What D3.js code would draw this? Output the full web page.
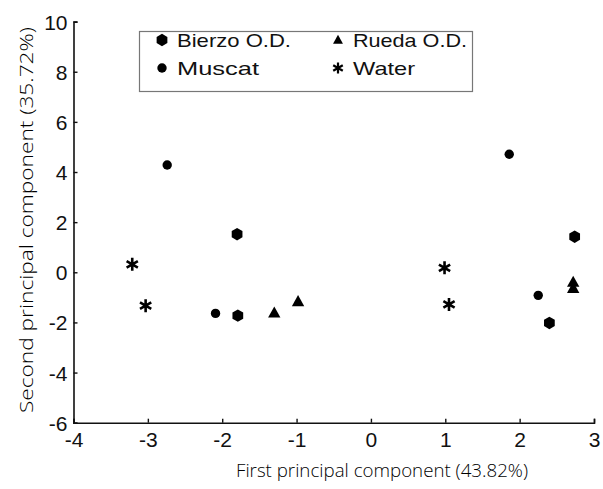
<!DOCTYPE html>
<html>
<head>
<meta charset="utf-8">
<script src="https://cdn.jsdelivr.net/npm/d3@7"></script>
<style>
  body { margin: 0; background: #fff; }
  svg { display: block; }
  text { fill: #111; }
</style>
</head>
<body>
<div id="container"></div>
<script>
const W = 603, H = 489;

// PCA scores
const groups = ["Bierzo O.D.", "Muscat", "Rueda O.D.", "Water"];
const bierzo = [[-1.8, 1.52], [-1.79, -1.73], [2.74, 1.42], [2.4, -2.02]];
const muscat = [[-2.74, 4.28], [-2.09, -1.64], [1.86, 4.71], [2.25, -0.92]];
const rueda = [[-1.3, -1.62], [-0.98, -1.17], [2.72, -0.4], [2.72, -0.64]];
const water = [[-3.21, 0.32], [-3.03, -1.33], [0.99, 0.18], [1.05, -1.28]];
const xTicks = [-4, -3, -2, -1, 0, 1, 2, 3];
const yTicks = [-6, -4, -2, 0, 2, 4, 6, 8, 10];
const xTitle = "First principal component (43.82%)";
const yTitle = "Second principal component (35.72%)";

const x = d3.scaleLinear().domain([-4, 3]).range([73.5, 594]);
const y = d3.scaleLinear().domain([-6, 10]).range([422.7, 21.6]);

const svg = d3.select("#container").append("svg")
  .attr("width", W).attr("height", H);

// marker shapes
const hexPath = (r) => {
  const pts = d3.range(6).map((i) => {
    const a = Math.PI / 2 + i * Math.PI / 3;
    return [r * Math.cos(a), r * Math.sin(a)];
  });
  return "M" + pts.join("L") + "Z";
};
const triPath = (r) => `M0,${-r}L${r * 0.95},${r * 0.7}L${-r * 0.95},${r * 0.7}Z`;
const starPath = (r) => d3.range(3).map((i) => {
  const a = Math.PI / 2 + i * Math.PI / 3;
  const dx = r * Math.cos(a), dy = r * Math.sin(a);
  return `M${-dx},${-dy}L${dx},${dy}`;
}).join("");

const drawMark = (g, kind) => {
  if (kind === 0) g.append("path").attr("d", hexPath(6.2)).attr("fill", "#000");
  if (kind === 1) g.append("circle").attr("r", 4.7).attr("fill", "#000");
  if (kind === 2) g.append("path").attr("d", triPath(6.5)).attr("fill", "#000");
  if (kind === 3) g.append("path").attr("d", starPath(6.5))
    .attr("stroke", "#000").attr("stroke-width", 2.6).attr("fill", "none");
};

// axes
const xAxis = svg.append("g").attr("transform", `translate(0,${y(-6)})`)
  .call(d3.axisBottom(x).tickValues(xTicks).tickSize(-4).tickFormat((d) => d));
const yAxis = svg.append("g").attr("transform", `translate(${x(-4)},0)`)
  .call(d3.axisLeft(y).tickValues(yTicks).tickSize(-4).tickFormat((d) => d));

[xAxis, yAxis].forEach((ax) => {
  ax.select(".domain").attr("stroke", "#111").attr("stroke-width", 1.6);
  ax.selectAll(".tick line").attr("stroke", "#111").attr("stroke-width", 1.4);
  ax.selectAll("text").attr("font-family", "Liberation Sans, Arial, sans-serif")
    .attr("font-size", 21).attr("fill", "#111");
});
xAxis.selectAll("text").attr("dy", "0.71em").attr("y", 9);
yAxis.selectAll("text").attr("x", -6).attr("dy", "0.36em");

// axis titles
svg.append("text")
  .attr("x", 382).attr("y", 477)
  .attr("text-anchor", "middle")
  .attr("font-family", "Open Sans, sans-serif")
  .attr("font-weight", 300)
  .attr("font-size", 19)
  .style("fill", "#000")
  .attr("textLength", 292)
  .attr("lengthAdjust", "spacingAndGlyphs")
  .text(xTitle);
svg.append("text")
  .attr("transform", "translate(33,220) rotate(-90)")
  .attr("text-anchor", "middle")
  .attr("font-family", "Open Sans, sans-serif")
  .attr("font-weight", 300)
  .attr("font-size", 19)
  .style("fill", "#000")
  .attr("textLength", 386)
  .attr("lengthAdjust", "spacingAndGlyphs")
  .text(yTitle);

// points
[bierzo, muscat, rueda, water].forEach((data, k) => {
  svg.append("g").selectAll("g").data(data).join("g")
    .attr("transform", ([a, b]) => `translate(${x(a)},${y(b)})`)
    .each(function () { drawMark(d3.select(this), k); });
});

// legend
const legend = svg.append("g");
legend.append("rect")
  .attr("x", 139.5).attr("y", 31.5).attr("width", 333).attr("height", 60)
  .attr("fill", "#fff").attr("stroke", "#777").attr("stroke-width", 1.2);
const legPos = [[162, 40], [162, 68], [338, 40], [338, 68]];
const legWidth = [114, 82, 114, 62];
groups.forEach((name, k) => {
  const [lx, ly] = legPos[k];
  const g = legend.append("g").attr("transform", `translate(${lx},${ly})`);
  const m = g.append("g").attr("transform", k === 2 ? "scale(0.8)" : k === 3 ? "scale(0.85)" : null);
  drawMark(m, k);
  g.append("text").attr("x", 15).attr("y", 6.5)
    .attr("font-family", "Liberation Sans, Arial, sans-serif")
    .attr("font-size", 19)
    .attr("textLength", legWidth[k])
    .attr("lengthAdjust", "spacingAndGlyphs")
    .text(name);
});
</script>
</body>
</html>
